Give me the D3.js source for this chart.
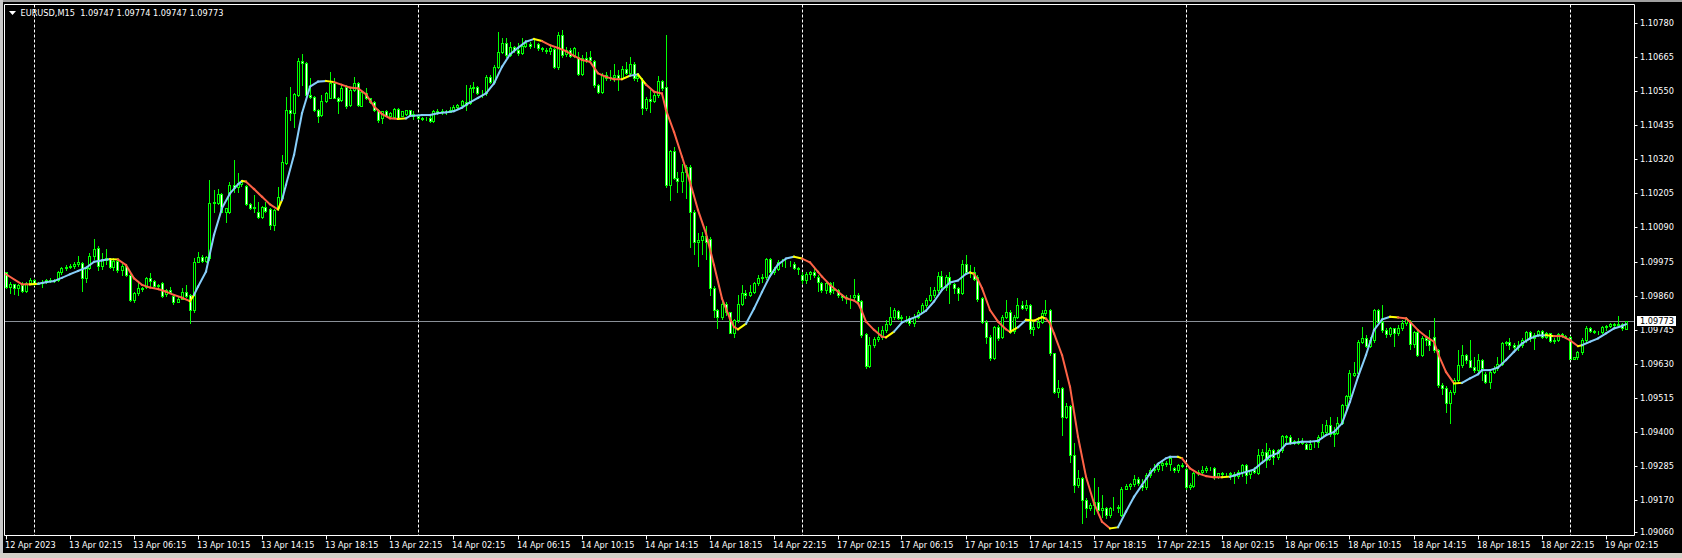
<!DOCTYPE html>
<html>
<head>
<meta charset="utf-8">
<script src="https://cdn.jsdelivr.net/npm/d3@7"></script>
<style>
  html, body { margin: 0; padding: 0; background: #000; overflow: hidden; }
  svg { display: block; }
  text { font-family: "DejaVu Sans", sans-serif; font-size: 8.2px; fill: #fff; white-space: pre; }
</style>
</head>
<body>
<svg id="chart" width="1682" height="558"></svg>
<script>
// EURUSD M15, 12 Apr 22:15 .. 19 Apr 03:30 (406 bars)
const symbol     = 'EURUSD,M15';
const headerOHLC = ['1.09747', '1.09774', '1.09747', '1.09773'];
const lastPrice  = 1.09773;

const opens = [
1.09938,1.09890,1.09898,1.09887,1.09896,1.09876,1.09901,1.09912,1.09900,1.09903,
1.09907,1.09912,1.09909,1.09912,1.09938,1.09952,1.09957,1.09961,1.09968,1.09969,
1.09920,1.09952,1.09995,1.10022,1.09961,1.09980,1.09982,1.09957,1.09977,1.09947,
1.09961,1.09929,1.09845,1.09867,1.09884,1.09890,1.09918,1.09909,1.09893,1.09901,
1.09864,1.09879,1.09859,1.09839,1.09850,1.09871,1.09862,1.09811,1.09974,1.09991,
1.09977,1.09986,1.10172,1.10172,1.10202,1.10143,1.10143,1.10234,1.10228,1.10236,
1.10231,1.10168,1.10155,1.10143,1.10127,1.10160,1.10153,1.10098,1.10155,1.10189,
1.10307,1.10487,1.10476,1.10538,1.10651,1.10645,1.10538,1.10532,1.10487,1.10470,
1.10518,1.10529,1.10577,1.10529,1.10521,1.10566,1.10504,1.10555,1.10577,1.10502,
1.10544,1.10527,1.10513,1.10487,1.10459,1.10482,1.10468,1.10465,1.10491,1.10468,
1.10473,1.10486,1.10472,1.10467,1.10461,1.10458,1.10461,1.10451,1.10483,1.10479,
1.10481,1.10479,1.10487,1.10498,1.10504,1.10515,1.10509,1.10560,1.10564,1.10543,
1.10543,1.10599,1.10582,1.10633,1.10684,1.10712,1.10673,1.10701,1.10689,1.10678,
1.10704,1.10709,1.10706,1.10709,1.10695,1.10691,1.10688,1.10693,1.10633,1.10742,
1.10675,1.10689,1.10670,1.10667,1.10607,1.10664,1.10667,1.10652,1.10571,1.10549,
1.10605,1.10594,1.10599,1.10605,1.10596,1.10627,1.10611,1.10644,1.10594,1.10588,
1.10495,1.10524,1.10517,1.10537,1.10585,1.10566,1.10233,1.10348,1.10258,1.10247,
1.10278,1.10295,1.10141,1.10041,1.10047,1.10062,1.10050,1.09886,1.09810,1.09788,
1.09830,1.09803,1.09735,1.09777,1.09830,1.09870,1.09861,1.09872,1.09904,1.09920,
1.09923,1.09985,1.09940,1.09951,1.09974,1.09968,1.09965,1.09968,1.09954,1.09931,
1.09912,1.09934,1.09938,1.09923,1.09904,1.09879,1.09904,1.09879,1.09879,1.09862,
1.09856,1.09851,1.09854,1.09862,1.09840,1.09730,1.09622,1.09693,1.09712,1.09721,
1.09744,1.09764,1.09789,1.09809,1.09787,1.09784,1.09783,1.09766,1.09789,1.09806,
1.09828,1.09845,1.09862,1.09879,1.09926,1.09890,1.09924,1.09899,1.09885,1.09868,
1.09967,1.09941,1.09938,1.09924,1.09851,1.09772,1.09721,1.09648,1.09755,1.09721,
1.09789,1.09806,1.09741,1.09789,1.09828,1.09817,1.09828,1.09746,1.09755,1.09772,
1.09800,1.09811,1.09665,1.09535,1.09546,1.09451,1.09487,1.09321,1.09220,1.09242,
1.09169,1.09143,1.09152,1.09163,1.09137,1.09141,1.09118,1.09141,1.09141,1.09118,
1.09208,1.09216,1.09223,1.09239,1.09220,1.09214,1.09253,1.09270,1.09273,1.09287,
1.09295,1.09291,1.09276,1.09270,1.09287,1.09273,1.09212,1.09216,1.09259,1.09265,
1.09270,1.09276,1.09276,1.09246,1.09259,1.09257,1.09257,1.09256,1.09250,1.09264,
1.09287,1.09256,1.09270,1.09259,1.09321,1.09332,1.09309,1.09337,1.09315,1.09337,
1.09385,1.09382,1.09362,1.09369,1.09362,1.09358,1.09343,1.09358,1.09366,1.09382,
1.09399,1.09422,1.09392,1.09396,1.09430,1.09490,1.09520,1.09591,1.09597,1.09704,
1.09715,1.09689,1.09709,1.09811,1.09771,1.09745,1.09730,1.09749,1.09732,1.09749,
1.09766,1.09775,1.09696,1.09738,1.09659,1.09715,1.09709,1.09721,1.09676,1.09557,
1.09549,1.09497,1.09535,1.09574,1.09625,1.09659,1.09642,1.09619,1.09608,1.09642,
1.09594,1.09568,1.09602,1.09614,1.09630,1.09700,1.09704,1.09692,1.09687,1.09692,
1.09709,1.09738,1.09715,1.09726,1.09740,1.09721,1.09732,1.09707,1.09709,1.09730,
1.09725,1.09721,1.09647,1.09651,1.09670,1.09709,1.09752,1.09741,1.09738,1.09738,
1.09754,1.09757,1.09763,1.09760,1.09763,1.09747
];

const highs = [
1.09941,1.09905,1.09900,1.09900,1.09905,1.09905,1.09918,1.09916,1.09907,1.09912,
1.09916,1.09918,1.09916,1.09943,1.09956,1.09963,1.09965,1.09972,1.09995,1.09974,
1.09957,1.10003,1.10051,1.10026,1.10003,1.10017,1.09986,1.09986,1.09980,1.09965,
1.09963,1.09932,1.09871,1.09905,1.09889,1.09924,1.09935,1.09912,1.09900,1.09905,
1.09882,1.09890,1.09862,1.09855,1.09887,1.09896,1.09864,1.09986,1.10008,1.09997,
1.09995,1.10251,1.10217,1.10220,1.10205,1.10157,1.10243,1.10318,1.10273,1.10251,
1.10234,1.10173,1.10200,1.10177,1.10164,1.10177,1.10155,1.10153,1.10228,1.10335,
1.10532,1.10566,1.10544,1.10662,1.10675,1.10648,1.10594,1.10536,1.10491,1.10538,
1.10547,1.10617,1.10594,1.10532,1.10572,1.10572,1.10560,1.10597,1.10581,1.10555,
1.10560,1.10529,1.10518,1.10491,1.10484,1.10486,1.10479,1.10493,1.10493,1.10484,
1.10488,1.10488,1.10483,1.10475,1.10463,1.10463,1.10467,1.10487,1.10490,1.10490,
1.10488,1.10498,1.10504,1.10508,1.10520,1.10573,1.10571,1.10580,1.10567,1.10554,
1.10605,1.10605,1.10639,1.10749,1.10729,1.10731,1.10718,1.10704,1.10712,1.10729,
1.10723,1.10718,1.10724,1.10715,1.10700,1.10697,1.10706,1.10695,1.10749,1.10757,
1.10701,1.10697,1.10701,1.10684,1.10673,1.10684,1.10686,1.10656,1.10576,1.10611,
1.10616,1.10622,1.10641,1.10622,1.10637,1.10650,1.10667,1.10648,1.10611,1.10594,
1.10532,1.10554,1.10543,1.10603,1.10588,1.10740,1.10351,1.10363,1.10278,1.10303,
1.10301,1.10301,1.10149,1.10070,1.10075,1.10096,1.10058,1.09893,1.09814,1.09844,
1.09839,1.09805,1.09782,1.09861,1.09895,1.09878,1.09895,1.09906,1.09931,1.09934,
1.09987,1.09987,1.09957,1.09979,1.09985,1.09985,1.09976,1.09972,1.09957,1.09938,
1.09940,1.09942,1.09954,1.09929,1.09907,1.09907,1.09907,1.09907,1.09881,1.09865,
1.09862,1.09862,1.09915,1.09868,1.09845,1.09735,1.09721,1.09721,1.09753,1.09757,
1.09778,1.09820,1.09817,1.09811,1.09794,1.09791,1.09791,1.09798,1.09811,1.09834,
1.09851,1.09890,1.09890,1.09941,1.09944,1.09930,1.09941,1.09904,1.09890,1.09980,
1.09997,1.09963,1.09958,1.09930,1.09856,1.09778,1.09727,1.09757,1.09761,1.09794,
1.09845,1.09811,1.09794,1.09851,1.09840,1.09845,1.09832,1.09778,1.09789,1.09811,
1.09845,1.09814,1.09667,1.09575,1.09552,1.09496,1.09490,1.09361,1.09270,1.09248,
1.09175,1.09158,1.09242,1.09214,1.09186,1.09146,1.09146,1.09180,1.09152,1.09214,
1.09223,1.09228,1.09253,1.09246,1.09239,1.09259,1.09276,1.09291,1.09299,1.09304,
1.09302,1.09315,1.09282,1.09291,1.09293,1.09276,1.09225,1.09265,1.09270,1.09284,
1.09284,1.09282,1.09279,1.09261,1.09265,1.09261,1.09265,1.09264,1.09270,1.09290,
1.09290,1.09272,1.09281,1.09343,1.09343,1.09362,1.09346,1.09340,1.09343,1.09388,
1.09388,1.09388,1.09373,1.09377,1.09377,1.09362,1.09371,1.09369,1.09388,1.09425,
1.09439,1.09450,1.09416,1.09450,1.09495,1.09523,1.09610,1.09636,1.09709,1.09754,
1.09726,1.09721,1.09816,1.09813,1.09828,1.09752,1.09754,1.09752,1.09760,1.09779,
1.09788,1.09779,1.09741,1.09741,1.09723,1.09725,1.09743,1.09783,1.09678,1.09563,
1.09554,1.09540,1.09580,1.09676,1.09692,1.09664,1.09709,1.09653,1.09664,1.09647,
1.09602,1.09608,1.09621,1.09651,1.09704,1.09707,1.09715,1.09700,1.09707,1.09715,
1.09741,1.09741,1.09732,1.09743,1.09745,1.09738,1.09734,1.09715,1.09734,1.09734,
1.09726,1.09723,1.09653,1.09673,1.09715,1.09757,1.09754,1.09743,1.09741,1.09757,
1.09760,1.09768,1.09766,1.09790,1.09768,1.09774
];

const lows = [
1.09887,1.09867,1.09864,1.09862,1.09873,1.09873,1.09898,1.09896,1.09898,1.09890,
1.09902,1.09905,1.09905,1.09910,1.09934,1.09945,1.09952,1.09954,1.09961,1.09875,
1.09907,1.09950,1.09983,1.09947,1.09950,1.09965,1.09954,1.09947,1.09941,1.09929,
1.09927,1.09841,1.09839,1.09862,1.09875,1.09887,1.09893,1.09890,1.09889,1.09856,
1.09859,1.09867,1.09830,1.09837,1.09848,1.09855,1.09766,1.09805,1.09972,1.09974,
1.09974,1.09980,1.10143,1.10168,1.10141,1.10110,1.10138,1.10211,1.10211,1.10231,
1.10166,1.10153,1.10143,1.10121,1.10123,1.10143,1.10084,1.10082,1.10149,1.10186,
1.10304,1.10453,1.10431,1.10536,1.10572,1.10536,1.10529,1.10484,1.10446,1.10468,
1.10515,1.10527,1.10527,1.10476,1.10518,1.10493,1.10499,1.10551,1.10502,1.10499,
1.10524,1.10510,1.10484,1.10448,1.10442,1.10466,1.10466,1.10461,1.10459,1.10466,
1.10470,1.10468,1.10458,1.10456,1.10454,1.10453,1.10448,1.10448,1.10472,1.10475,
1.10472,1.10479,1.10483,1.10492,1.10498,1.10487,1.10506,1.10549,1.10540,1.10532,
1.10537,1.10577,1.10577,1.10630,1.10678,1.10667,1.10670,1.10682,1.10673,1.10675,
1.10701,1.10695,1.10701,1.10689,1.10686,1.10678,1.10675,1.10630,1.10627,1.10667,
1.10670,1.10667,1.10667,1.10605,1.10605,1.10650,1.10650,1.10566,1.10546,1.10543,
1.10588,1.10588,1.10585,1.10554,1.10594,1.10607,1.10607,1.10588,1.10585,1.10475,
1.10487,1.10479,1.10513,1.10532,1.10554,1.10227,1.10182,1.10253,1.10210,1.10210,
1.10188,1.10025,1.09999,1.09960,1.10002,1.09985,1.09863,1.09788,1.09751,1.09782,
1.09794,1.09732,1.09720,1.09771,1.09827,1.09852,1.09859,1.09867,1.09897,1.09906,
1.09917,1.09934,1.09934,1.09946,1.09960,1.09957,1.09960,1.09949,1.09934,1.09904,
1.09904,1.09917,1.09923,1.09875,1.09873,1.09868,1.09865,1.09868,1.09854,1.09845,
1.09834,1.09817,1.09845,1.09834,1.09721,1.09614,1.09620,1.09687,1.09708,1.09712,
1.09738,1.09761,1.09780,1.09780,1.09778,1.09769,1.09761,1.09757,1.09783,1.09800,
1.09823,1.09840,1.09856,1.09873,1.09885,1.09879,1.09834,1.09868,1.09845,1.09865,
1.09938,1.09924,1.09913,1.09843,1.09766,1.09699,1.09642,1.09645,1.09710,1.09716,
1.09783,1.09732,1.09735,1.09783,1.09814,1.09811,1.09732,1.09727,1.09749,1.09766,
1.09794,1.09659,1.09530,1.09518,1.09389,1.09445,1.09299,1.09197,1.09214,1.09092,
1.09113,1.09135,1.09122,1.09133,1.09113,1.09110,1.09113,1.09135,1.09130,1.09115,
1.09205,1.09208,1.09216,1.09220,1.09203,1.09208,1.09246,1.09265,1.09268,1.09270,
1.09284,1.09270,1.09265,1.09265,1.09279,1.09208,1.09208,1.09214,1.09253,1.09259,
1.09265,1.09270,1.09239,1.09242,1.09250,1.09250,1.09239,1.09225,1.09245,1.09250,
1.09225,1.09245,1.09259,1.09256,1.09304,1.09281,1.09306,1.09290,1.09309,1.09332,
1.09360,1.09358,1.09360,1.09358,1.09360,1.09340,1.09340,1.09349,1.09349,1.09380,
1.09394,1.09385,1.09351,1.09392,1.09425,1.09473,1.09515,1.09588,1.09591,1.09698,
1.09685,1.09685,1.09704,1.09766,1.09738,1.09721,1.09723,1.09689,1.09726,1.09743,
1.09760,1.09681,1.09685,1.09655,1.09655,1.09692,1.09676,1.09670,1.09552,1.09527,
1.09467,1.09428,1.09529,1.09568,1.09619,1.09633,1.09617,1.09602,1.09602,1.09574,
1.09563,1.09546,1.09597,1.09608,1.09625,1.09692,1.09681,1.09676,1.09676,1.09687,
1.09704,1.09707,1.09678,1.09723,1.09715,1.09715,1.09704,1.09700,1.09707,1.09721,
1.09715,1.09644,1.09644,1.09644,1.09664,1.09704,1.09738,1.09734,1.09730,1.09734,
1.09745,1.09754,1.09752,1.09757,1.09745,1.09747
];

const closes = [
1.09890,1.09898,1.09887,1.09896,1.09876,1.09901,1.09912,1.09900,1.09903,1.09907,
1.09912,1.09909,1.09912,1.09938,1.09952,1.09957,1.09961,1.09968,1.09972,1.09920,
1.09952,1.09995,1.10019,1.09961,1.09980,1.09986,1.09957,1.09977,1.09947,1.09961,
1.09929,1.09845,1.09867,1.09884,1.09881,1.09918,1.09909,1.09893,1.09896,1.09859,
1.09879,1.09873,1.09839,1.09850,1.09871,1.09859,1.09811,1.09972,1.09991,1.09977,
1.09991,1.10172,1.10177,1.10202,1.10143,1.10155,1.10234,1.10222,1.10236,1.10245,
1.10168,1.10155,1.10160,1.10127,1.10160,1.10147,1.10098,1.10149,1.10194,1.10310,
1.10487,1.10476,1.10540,1.10651,1.10645,1.10538,1.10532,1.10487,1.10468,1.10518,
1.10544,1.10577,1.10529,1.10518,1.10560,1.10502,1.10555,1.10577,1.10504,1.10549,
1.10527,1.10513,1.10487,1.10453,1.10482,1.10468,1.10476,1.10491,1.10461,1.10482,
1.10486,1.10470,1.10467,1.10461,1.10458,1.10456,1.10451,1.10483,1.10479,1.10483,
1.10479,1.10487,1.10498,1.10504,1.10517,1.10504,1.10560,1.10564,1.10543,1.10543,
1.10599,1.10582,1.10633,1.10684,1.10712,1.10673,1.10701,1.10689,1.10678,1.10704,
1.10712,1.10704,1.10706,1.10695,1.10693,1.10688,1.10697,1.10633,1.10742,1.10673,
1.10689,1.10670,1.10695,1.10607,1.10664,1.10656,1.10656,1.10571,1.10549,1.10605,
1.10594,1.10599,1.10605,1.10596,1.10627,1.10611,1.10644,1.10594,1.10603,1.10495,
1.10524,1.10517,1.10537,1.10585,1.10560,1.10233,1.10348,1.10258,1.10247,1.10278,
1.10295,1.10141,1.10041,1.10047,1.10062,1.10041,1.09886,1.09810,1.09788,1.09830,
1.09803,1.09735,1.09777,1.09830,1.09870,1.09861,1.09872,1.09904,1.09920,1.09923,
1.09985,1.09940,1.09951,1.09974,1.09972,1.09965,1.09968,1.09954,1.09949,1.09912,
1.09934,1.09938,1.09931,1.09906,1.09879,1.09904,1.09873,1.09881,1.09862,1.09856,
1.09851,1.09851,1.09862,1.09840,1.09727,1.09622,1.09693,1.09712,1.09721,1.09744,
1.09764,1.09789,1.09811,1.09783,1.09784,1.09783,1.09766,1.09789,1.09806,1.09828,
1.09845,1.09862,1.09879,1.09926,1.09890,1.09924,1.09899,1.09885,1.09868,1.09967,
1.09941,1.09938,1.09915,1.09847,1.09772,1.09721,1.09648,1.09755,1.09716,1.09789,
1.09806,1.09738,1.09789,1.09828,1.09817,1.09828,1.09746,1.09755,1.09772,1.09800,
1.09811,1.09665,1.09535,1.09546,1.09451,1.09487,1.09321,1.09220,1.09242,1.09169,
1.09143,1.09152,1.09163,1.09137,1.09141,1.09118,1.09141,1.09141,1.09144,1.09208,
1.09216,1.09223,1.09239,1.09225,1.09214,1.09253,1.09270,1.09273,1.09287,1.09295,
1.09291,1.09310,1.09270,1.09287,1.09284,1.09212,1.09219,1.09259,1.09265,1.09270,
1.09276,1.09276,1.09246,1.09259,1.09257,1.09257,1.09259,1.09250,1.09264,1.09287,
1.09253,1.09270,1.09264,1.09321,1.09332,1.09304,1.09337,1.09315,1.09337,1.09385,
1.09382,1.09362,1.09369,1.09362,1.09369,1.09343,1.09358,1.09360,1.09382,1.09399,
1.09422,1.09392,1.09396,1.09430,1.09490,1.09520,1.09597,1.09597,1.09704,1.09715,
1.09689,1.09709,1.09811,1.09771,1.09745,1.09730,1.09749,1.09732,1.09749,1.09766,
1.09783,1.09696,1.09738,1.09659,1.09715,1.09709,1.09692,1.09676,1.09557,1.09549,
1.09497,1.09535,1.09574,1.09625,1.09659,1.09642,1.09619,1.09608,1.09642,1.09614,
1.09568,1.09602,1.09614,1.09630,1.09700,1.09704,1.09692,1.09687,1.09692,1.09709,
1.09738,1.09715,1.09726,1.09740,1.09721,1.09732,1.09707,1.09709,1.09730,1.09725,
1.09721,1.09647,1.09651,1.09670,1.09709,1.09752,1.09741,1.09738,1.09738,1.09754,
1.09757,1.09763,1.09760,1.09763,1.09752,1.09773
];

// smoothed moving average, read at these bar indices
const maBars = [
0,4,6,8,10,12,14,16,18,20,22,24,26,28,30,32,34,36,38,40,42,44,46,47,48,50,52,54,56,58,59,60,62,64,66,68,69,70,72,74,76,78,80,82,84,86,88,90,92,94,96,98,100,
101,104,106,108,110,112,114,116,118,120,122,124,126,128,130,132,134,136,138,140,142,144,146,148,150,152,154,156,158,160,162,164,165,167,169,171,173,175,177,179,181,182,183,185,187,189,191,193,195,197,199,201,203,
204,206,208,210,212,213,214,215,217,219,220,222,224,226,228,230,232,234,236,238,240,241,242,243,244,246,248,250,251,253,255,257,259,260,261,262,264,266,268,270,272,274,276,278,280,282,284,286,288,290,291,293,294,296,298,300,302,304,306,
308,310,312,314,316,318,320,322,324,326,328,330,332,334,336,338,340,342,344,346,348,350,351,353,355,357,358,360,362,364,366,368,369,371,373,375,377,379,381,383,385,387,389,391,393,394,396,398,400,402,404,405
];
const maValues = [
1.09932,1.09898,1.09898,1.09900,1.09905,1.09909,1.09920,1.09932,1.09943,1.09954,1.09974,1.09979,1.09983,1.09982,1.09963,1.09918,1.09896,1.09887,1.09882,1.09873,1.09862,1.09853,1.09841,1.09862,1.09890,1.09941,1.10065,1.10155,1.10205,1.10236,1.10247,1.10245,1.10220,1.10194,1.10168,1.10151,1.10183,1.10234,1.10335,1.10476,1.10566,1.10583,1.10585,1.10581,1.10572,1.10563,1.10560,1.10540,1.10499,1.10473,1.10459,1.10457,1.10459,
1.10467,1.10470,1.10470,1.10476,1.10479,1.10483,1.10495,1.10513,1.10528,1.10543,1.10577,1.10633,1.10675,1.10697,1.10718,1.10727,1.10720,1.10706,1.10697,1.10686,1.10670,1.10656,1.10650,1.10611,1.10599,1.10591,1.10591,1.10603,1.10607,1.10573,1.10549,1.10543,1.10487,1.10413,1.10329,1.10244,1.10149,1.10070,1.09963,1.09850,1.09782,1.09754,1.09746,1.09765,1.09816,1.09872,1.09926,1.09965,1.09985,1.09991,1.09985,1.09972,1.09940,
1.09924,1.09896,1.09873,1.09851,1.09843,1.09834,1.09806,1.09772,1.09744,1.09721,1.09719,1.09738,1.09769,1.09780,1.09791,1.09809,1.09840,1.09879,1.09904,1.09911,1.09933,1.09938,1.09933,1.09913,1.09885,1.09811,1.09772,1.09746,1.09737,1.09753,1.09778,1.09775,1.09787,1.09782,1.09766,1.09732,1.09659,1.09552,1.09383,1.09248,1.09158,1.09096,1.09073,1.09077,1.09130,1.09180,1.09220,1.09259,1.09291,1.09310,1.09315,1.09315,1.09310,1.09276,1.09259,1.09250,1.09246,1.09246,1.09248,
1.09256,1.09264,1.09272,1.09295,1.09317,1.09328,1.09358,1.09362,1.09366,1.09366,1.09369,1.09388,1.09399,1.09428,1.09501,1.09585,1.09659,1.09743,1.09779,1.09788,1.09786,1.09783,1.09771,1.09743,1.09721,1.09704,1.09664,1.09602,1.09563,1.09565,1.09580,1.09594,1.09608,1.09608,1.09617,1.09642,1.09670,1.09698,1.09715,1.09725,1.09726,1.09723,1.09723,1.09709,1.09689,1.09692,1.09704,1.09715,1.09732,1.09749,1.09757,1.09763
];

const timeLabels = [
  '12 Apr 2023', '13 Apr 02:15', '13 Apr 06:15', '13 Apr 10:15', '13 Apr 14:15', '13 Apr 18:15', '13 Apr 22:15',
  '14 Apr 02:15', '14 Apr 06:15', '14 Apr 10:15', '14 Apr 14:15', '14 Apr 18:15', '14 Apr 22:15',
  '17 Apr 02:15', '17 Apr 06:15', '17 Apr 10:15', '17 Apr 14:15', '17 Apr 18:15', '17 Apr 22:15',
  '18 Apr 02:15', '18 Apr 06:15', '18 Apr 10:15', '18 Apr 14:15', '18 Apr 18:15', '18 Apr 22:15',
  '19 Apr 02:15'
];
const barsPerLabel  = 16;
const daySeparators = [7, 103, 199, 295, 391];   // first bar of each new day
const priceTicks = [1.10780, 1.10665, 1.10550, 1.10435, 1.10320, 1.10205, 1.10090, 1.09975,
                    1.09860, 1.09745, 1.09630, 1.09515, 1.09400, 1.09285, 1.09170, 1.09060];

// ---------------------------------------------------------------
const W = 1682, H = 558;
const plot = { left: 4.5, top: 4.5, right: 1634.5, bottom: 535.5 };

const svg = d3.select('#chart');

const x = d3.scaleLinear().domain([0, closes.length - 1]).range([6, 6 + 4 * (closes.length - 1)]);
const y = d3.scaleLinear().domain([1.09060, 1.10780]).range([532.3, 23.3]);

svg.append('rect').attr('width', W).attr('height', H).attr('fill', '#000');

// window chrome
svg.append('rect').attr('x', 0).attr('y', 0).attr('width', W).attr('height', 2).attr('fill', '#a0a0a0');
svg.append('rect').attr('x', 0).attr('y', 0).attr('width', 3).attr('height', H).attr('fill', '#c8c8c8');
svg.append('rect').attr('x', 0).attr('y', 553).attr('width', W).attr('height', 5).attr('fill', '#d4d0c8');

const g = svg.append('g');

// day separators
g.selectAll('line.sep')
  .data(daySeparators)
  .join('line')
    .attr('class', 'sep')
    .attr('x1', d => Math.floor(x(d)) + 0.5)
    .attr('x2', d => Math.floor(x(d)) + 0.5)
    .attr('y1', plot.top)
    .attr('y2', plot.bottom)
    .attr('stroke', '#fff')
    .attr('stroke-dasharray', '3,2');

// current price line
g.append('line')
  .attr('x1', plot.left).attr('x2', plot.right)
  .attr('y1', Math.round(y(lastPrice)) + 0.5).attr('y2', Math.round(y(lastPrice)) + 0.5)
  .attr('stroke', '#8a9098');

// candles
const bars = d3.range(closes.length);

g.selectAll('line.wick')
  .data(bars)
  .join('line')
    .attr('class', 'wick')
    .attr('x1', i => Math.floor(x(i)) + 0.5)
    .attr('x2', i => Math.floor(x(i)) + 0.5)
    .attr('y1', i => Math.round(y(Math.max(highs[i], opens[i], closes[i]))))
    .attr('y2', i => Math.round(y(Math.min(lows[i], opens[i], closes[i]))) + 1)
    .attr('stroke', '#00ff00');

g.selectAll('rect.body')
  .data(bars)
  .join('rect')
    .attr('class', 'body')
    .attr('x', i => Math.floor(x(i)) - 0.5)
    .attr('y', i => Math.round(y(Math.max(opens[i], closes[i]))) + 0.5)
    .attr('width', 2)
    .attr('height', i => Math.max(0, Math.round(y(Math.min(opens[i], closes[i]))) - Math.round(y(Math.max(opens[i], closes[i])))))
    .attr('fill', i => closes[i] < opens[i] ? '#fff' : '#000')
    .attr('stroke', '#00ff00');

// moving average, coloured by direction; yellow where it turns
const maPts = maBars.map((b, k) => [x(b), y(maValues[k])]);
const segs = [];
let prevDir = 0;
for (let k = 0; k < maPts.length - 1; k++) {
  const perBar = (maValues[k + 1] - maValues[k]) / (maBars[k + 1] - maBars[k]);
  const dir = Math.abs(perBar) < 0.000004 ? 0 : Math.sign(perBar);
  let color = dir > 0 ? '#87cefa' : '#ff6347';
  if (dir === 0) color = prevDir > 0 ? '#87cefa' : '#ff6347';
  if (prevDir !== 0 && dir !== 0 && dir !== prevDir) color = '#ffff00';
  segs.push({ a: maPts[k], b: maPts[k + 1], color });
  if (dir !== 0) prevDir = dir;
}
const line = d3.line();
g.selectAll('path.ma')
  .data(segs)
  .join('path')
    .attr('class', 'ma')
    .attr('d', d => line([d.a, d.b]))
    .attr('fill', 'none')
    .attr('stroke', d => d.color)
    .attr('stroke-width', 2)
    .attr('stroke-linecap', 'square');

// frame
svg.append('path')
  .attr('d', `M${plot.left},${plot.bottom}V${plot.top}H${plot.right}V${plot.bottom}H${plot.left}`)
  .attr('fill', 'none')
  .attr('stroke', '#fff');

// price axis
const pa = svg.append('g');
pa.selectAll('line')
  .data(priceTicks)
  .join('line')
    .attr('x1', plot.right).attr('x2', plot.right + 3)
    .attr('y1', d => Math.round(y(d)) + 0.5).attr('y2', d => Math.round(y(d)) + 0.5)
    .attr('stroke', '#fff');
pa.selectAll('text')
  .data(priceTicks)
  .join('text')
    .attr('x', 1640)
    .attr('y', d => y(d) + 3)
    .text(d => d.toFixed(5));

// last price tag
const ly = Math.round(y(lastPrice));
svg.append('rect')
  .attr('x', 1636.5).attr('y', ly - 5.5)
  .attr('width', 40).attr('height', 11)
  .attr('fill', '#fff').attr('stroke', '#000');
svg.append('text')
  .attr('x', 1640).attr('y', ly + 3)
  .style('fill', '#000')
  .text(lastPrice.toFixed(5));

// time axis
const ta = svg.append('g');
ta.selectAll('line')
  .data(timeLabels)
  .join('line')
    .attr('x1', (d, k) => Math.floor(x(k * barsPerLabel)) + 0.5)
    .attr('x2', (d, k) => Math.floor(x(k * barsPerLabel)) + 0.5)
    .attr('y1', plot.bottom).attr('y2', plot.bottom + 4)
    .attr('stroke', '#fff');
ta.selectAll('text')
  .data(timeLabels)
  .join('text')
    .attr('x', (d, k) => Math.floor(x(k * barsPerLabel)) - 1)
    .attr('y', 548)
    .text(d => d);

// header
svg.append('path')
  .attr('d', 'M9,11H16L12.5,15Z')
  .attr('fill', '#fff');
svg.append('text')
  .attr('x', 20.5).attr('y', 16)
  .text(`${symbol}  ${headerOHLC.join(' ')}`);
</script>
</body>
</html>
